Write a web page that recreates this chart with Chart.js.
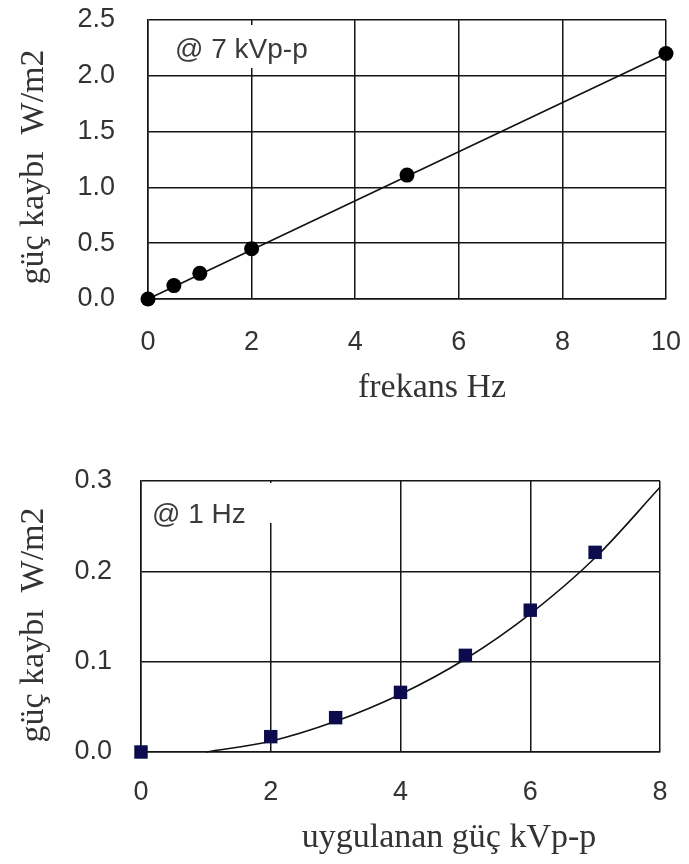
<!DOCTYPE html>
<html>
<head>
<meta charset="utf-8">
<script src="https://cdn.jsdelivr.net/npm/chart.js@4.4.1/dist/chart.umd.min.js"></script>
<style>
  body { margin: 0; background: #fff; }
  canvas { display: block; }
</style>
</head>
<body>
<canvas id="freqChart" width="689" height="430"></canvas>
<canvas id="voltChart" width="689" height="434"></canvas>
<script>
// üst grafik: frekansa göre güç kaybı (@ 7 kVp-p)
const freqHz = [0, 0.5, 1, 2, 5, 10];
const lossByFreq = [0, 0.12, 0.23, 0.45, 1.11, 2.2];
const freqFitX = [0, 10];
const freqFitY = [0, 2.2];
const freqTicks = [0, 2, 4, 6, 8, 10];
const lossTicksTop = [0, 0.5, 1.0, 1.5, 2.0, 2.5];

// alt grafik: uygulanan gerilime göre güç kaybı (@ 1 Hz)
const voltKV = [0, 2, 3, 4, 5, 6, 7];
const lossByVolt = [0, 0.017, 0.038, 0.066, 0.107, 0.157, 0.221];
const voltFitX = [1, 2, 3, 4, 5, 6, 7, 8];
const voltFitY = [0, 0.012, 0.034, 0.064, 0.103, 0.153, 0.215, 0.293];
const voltTicks = [0, 2, 4, 6, 8];
const lossTicksBottom = [0, 0.1, 0.2, 0.3];

const toPoints = (xs, ys) => xs.map((x, i) => ({ x: x, y: ys[i] }));

const tickFont = { family: '"Liberation Sans", Arial, sans-serif', size: 27 };
const gridStyle = { color: '#151515', lineWidth: 1.5, drawTicks: false };
const borderStyle = { display: true, color: '#151515', width: 1.5 };

// eksen kenar boşluklarını sıfırla, çizim alanı sabit kalsın
function fixSize(s, key, val) {
    s[key] = val;
    s.paddingLeft = s.paddingRight = s.paddingTop = s.paddingBottom = 0;
}

// eksen başlıkları ve not kutusu
const labelsPlugin = {
    id: 'labels',
    beforeDatasetsDraw(chart, args, opts) {
        const ctx = chart.ctx;
        ctx.save();
        ctx.fillStyle = '#fff';
        ctx.fillRect(opts.box[0], opts.box[1], opts.box[2], opts.box[3]);
        ctx.fillStyle = '#3a3a3a';
        ctx.font = '28px "Liberation Sans", Arial, sans-serif';
        ctx.textBaseline = 'alphabetic';
        ctx.textAlign = 'left';
        ctx.fillText(opts.note, opts.noteAt[0], opts.noteAt[1]);
        ctx.restore();
    },
    afterDraw(chart, args, opts) {
        const ctx = chart.ctx;
        ctx.save();
        ctx.fillStyle = '#333';
        ctx.font = '34px "Liberation Serif", "Times New Roman", serif';
        ctx.textAlign = 'center';
        ctx.textBaseline = 'alphabetic';
        ctx.fillText(opts.xTitle, opts.xTitleAt[0], opts.xTitleAt[1]);
        ctx.translate(opts.yTitleAt[0], opts.yTitleAt[1]);
        ctx.rotate(-Math.PI / 2);
        ctx.fillText(opts.yTitle, 0, 0);
        ctx.restore();
    }
};

function makeChart(id, cfg) {
    return new Chart(document.getElementById(id), {
        type: 'scatter',
        data: {
            datasets: [
                {
                    data: cfg.points,
                    backgroundColor: cfg.pointColor,
                    borderColor: cfg.pointColor,
                    pointStyle: cfg.pointStyle,
                    pointRadius: cfg.pointRadius,
                    borderWidth: 0,
                    clip: false
                },
                {
                    data: cfg.fit,
                    showLine: true,
                    borderColor: '#111',
                    borderWidth: 1.6,
                    pointRadius: 0,
                    cubicInterpolationMode: 'monotone',
                    clip: false
                }
            ]
        },
        options: {
            responsive: false,
            animation: false,
            layout: { padding: cfg.padding },
            plugins: {
                legend: { display: false },
                tooltip: { enabled: false },
                labels: cfg.labels
            },
            scales: {
                x: {
                    type: 'linear',
                    min: cfg.xTicks[0],
                    max: cfg.xTicks[cfg.xTicks.length - 1],
                    afterBuildTicks: s => { s.ticks = cfg.xTicks.map(v => ({ value: v })); },
                    afterFit: s => fixSize(s, 'height', cfg.xHeight),
                    grid: gridStyle,
                    border: borderStyle,
                    ticks: { font: tickFont, color: '#333', padding: cfg.xPad, maxRotation: 0 }
                },
                y: {
                    type: 'linear',
                    min: cfg.yTicks[0],
                    max: cfg.yTicks[cfg.yTicks.length - 1],
                    afterBuildTicks: s => { s.ticks = cfg.yTicks.map(v => ({ value: v })); },
                    afterFit: s => fixSize(s, 'width', cfg.yWidth),
                    grid: gridStyle,
                    border: borderStyle,
                    ticks: {
                        font: tickFont,
                        color: '#333',
                        padding: cfg.yPad,
                        callback: v => Number(v).toFixed(1)
                    }
                }
            }
        },
        plugins: [labelsPlugin]
    });
}

makeChart('freqChart', {
    points: toPoints(freqHz, lossByFreq),
    fit: toPoints(freqFitX, freqFitY),
    pointColor: '#000',
    pointStyle: 'circle',
    pointRadius: 7.5,
    xTicks: freqTicks,
    yTicks: lossTicksTop,
    padding: { left: 0, right: 23, top: 20, bottom: 0 },
    xHeight: 131,
    yWidth: 148,
    xPad: 27,
    yPad: 33,
    labels: {
        box: [165, 25, 160, 43],
        note: '@ 7 kVp-p',
        noteAt: [175, 58],
        xTitle: 'frekans Hz',
        xTitleAt: [432, 397],
        yTitle: 'güç kaybı  W/m2',
        yTitleAt: [43, 167]
    }
});

makeChart('voltChart', {
    points: toPoints(voltKV, lossByVolt),
    fit: toPoints(voltFitX, voltFitY),
    pointColor: '#0b0b4d',
    pointStyle: 'rect',
    pointRadius: 9.5,
    xTicks: voltTicks,
    yTicks: lossTicksBottom,
    padding: { left: 0, right: 29, top: 51, bottom: 0 },
    xHeight: 112,
    yWidth: 141,
    xPad: 24,
    yPad: 29,
    labels: {
        box: [148, 53, 132, 40],
        note: '@ 1 Hz',
        noteAt: [152, 93],
        xTitle: 'uygulanan güç kVp-p',
        xTitleAt: [449, 417],
        yTitle: 'güç kaybı  W/m2',
        yTitleAt: [43, 195]
    }
});
</script>
</body>
</html>
